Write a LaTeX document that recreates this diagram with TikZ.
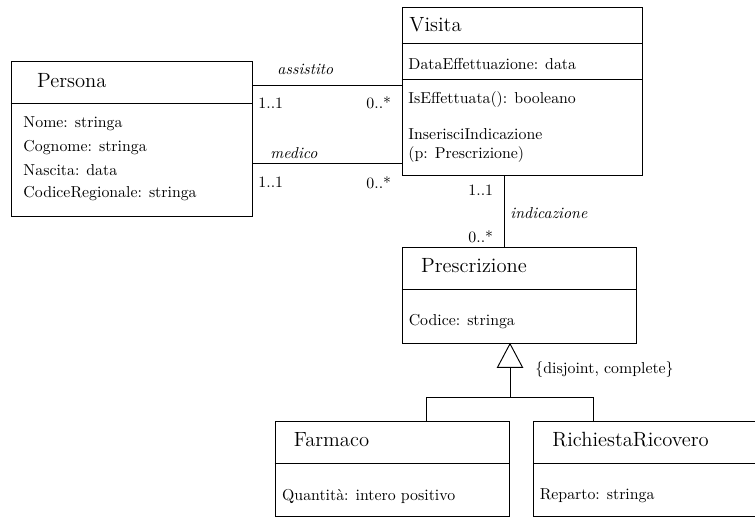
\documentclass[tikz,border=0pt]{standalone}
\usetikzlibrary{fit}
\begin{document}
\begin{tikzpicture}[x=0.6317pt,y=-0.6317pt,line width=0.6pt,
  classbox/.style={draw,inner sep=0pt},
  cname/.style={anchor=west,inner sep=0pt,font=\fontsize{13}{15}\selectfont},
  attr/.style={anchor=west,inner sep=0pt,font=\fontsize{10}{12}\selectfont},
  role/.style={anchor=west,inner sep=0pt,font=\fontsize{10}{12}\selectfont\itshape},
  mult/.style={anchor=west,inner sep=0pt,font=\fontsize{10}{12}\selectfont}]
\useasboundingbox (0,0) rectangle (755,518);

% class boxes
\node[classbox,fit={(11,61) (252,216.5)}] (persona) {};
\node[classbox,fit={(402,7.5) (642,175.5)}] (visita) {};
\node[classbox,fit={(402,247.3) (636.7,343.3)}] (prescr) {};
\node[classbox,fit={(275,421.7) (509.3,516.7)}] (farmaco) {};
\node[classbox,fit={(533.3,421.7) (757,516.7)}] (ricovero) {};

% compartment separators
\coordinate (sp1) at (0,103);
\coordinate (sv1) at (0,43.3);
\coordinate (sv2) at (0,79.3);
\coordinate (sr1) at (0,289);
\coordinate (sf1) at (0,463);
\draw (persona.west |- sp1) -- (persona.east |- sp1);
\draw (visita.west |- sv1) -- (visita.east |- sv1);
\draw (visita.west |- sv2) -- (visita.east |- sv2);
\draw (prescr.west |- sr1) -- (prescr.east |- sr1);
\draw (farmaco.west |- sf1) -- (farmaco.east |- sf1);
\draw (ricovero.west |- sf1) -- (ricovero.east |- sf1);

% Persona
\node[cname] (tpersona) at (36.7,80.5) {Persona};
\node[attr] (pa1) at (23,124) {Nome: stringa};
\node[attr] (pa2) at (23,147.5) {Cognome: stringa};
\node[attr] (pa3) at (23,170.5) {Nascita: data};
\node[attr] (pa4) at (23,194) {CodiceRegionale: stringa};

% Visita
\node[cname] (tvisita) at (409,25) {Visita};
\node[attr] (va1) at (408,64) {DataEffettuazione: data};
\node[attr] (vo1) at (408,100) {IsEffettuata(): booleano};
\node[attr] (vo2) at (408,134.5) {InserisciIndicazione};
\node[attr] (vo3) at (408,155) {(p: Prescrizione)};

% Prescrizione
\node[cname] (tprescr) at (420.7,266) {Prescrizione};
\node[attr] (ra1) at (408.3,322) {Codice: stringa};

% Farmaco and RichiestaRicovero
\node[cname] (tfarmaco) at (293.3,440) {Farmaco};
\node[attr] (fa1) at (281.7,496) {Quantità: intero positivo};
\node[cname] (tricovero) at (552,440) {RichiestaRicovero};
\node[attr] (ka1) at (539.3,496) {Reparto: stringa};

% associations Persona -- Visita
\coordinate (ya) at (0,85.3);
\coordinate (ym) at (0,163.3);
\draw (persona.east |- ya) -- (visita.west |- ya);
\draw (persona.east |- ym) -- (visita.west |- ym);
\node[role] (lassist) at (277,69.5) {assistito};
\node[mult] (ma1) at (258,103) {1..1};
\node[mult] (ma2) at (366,103) {0..*};
\node[role] (lmedico) at (270,153.5) {medico};
\node[mult] (mm1) at (258,182.5) {1..1};
\node[mult] (mm2) at (366,182.5) {0..*};

% association Visita -- Prescrizione
\coordinate (xi) at (504,0);
\draw (visita.south -| xi) -- (prescr.north -| xi);
\node[mult] (mi1) at (468,190) {1..1};
\node[role] (lindic) at (510,213.3) {indicazione};
\node[mult] (mi2) at (468,236.5) {0..*};

% generalization
\coordinate (gx) at (510,0);
\coordinate (gb) at (510,367.3);
\coordinate (gj) at (510,397);
\coordinate (gf) at (426,397);
\coordinate (gr) at (593.3,397);
\draw (prescr.south -| gx) -- ([xshift=-12.5*0.6317pt]gb) -- ([xshift=12.5*0.6317pt]gb) -- cycle;
\draw (gb) -- (gj);
\draw (gf) -- (gr);
\draw (gf) -- (farmaco.north -| gf);
\draw (gr) -- (ricovero.north -| gr);
\node[attr] (constr) at (535,370) {\{disjoint, complete\}};
\end{tikzpicture}
\end{document}
